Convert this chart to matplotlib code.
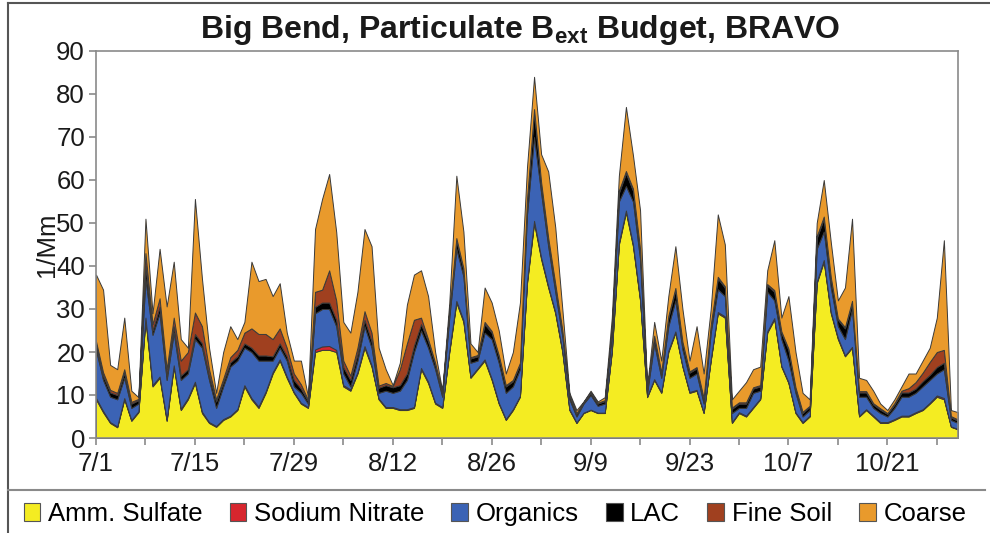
import matplotlib
matplotlib.use("Agg")
import matplotlib.pyplot as plt
from matplotlib.patches import Patch
from matplotlib.lines import Line2D
import numpy as np

plt.rcParams['font.family'] = ['Liberation Sans', 'DejaVu Sans']
plt.rcParams['mathtext.fontset'] = 'custom'
plt.rcParams['mathtext.rm'] = 'Liberation Sans'
plt.rcParams['mathtext.bf'] = 'Liberation Sans:bold'

# ---- data (daily, 7/1 .. 10/31), units 1/Mm ----
sulfate = [9, 6, 3.5, 2.5, 9, 4, 6, 27.6, 12, 14,
           4, 16.6, 6.5, 9, 12.8, 5.8, 3.5, 2.6, 4.2, 5,
           6.5, 12, 9, 7, 10.5, 15, 18, 14, 10.5, 8,
           7, 20, 20.5, 20.5, 20, 12, 11, 15, 21, 16.6,
           9, 7, 7, 6.5, 6.5, 7, 16, 12.8, 8, 7,
           20, 31.5, 27, 14, 16, 18, 13.5, 8, 4.2, 6.5,
           9.6, 36, 50, 41.6, 35, 29, 20, 6.5, 3.5, 5.8,
           6.5, 5.8, 5.8, 20, 45, 52.5, 44.6, 32, 9.5, 13.5,
           10.5, 20, 24.5, 16.6, 10.5, 11, 5.8, 18, 29, 28,
           3.5, 5.8, 5, 7, 9, 24.5, 27.6, 16.6, 12.8, 5.8,
           3.5, 5, 36, 41, 29, 23, 19, 21, 5, 6.5,
           5, 3.5, 3.5, 4.2, 5, 5, 5.8, 6.5, 8, 9.6,
           9, 2.6, 2]
nitrate = [0.3, 0.3, 0.2, 0.2, 0.3, 0.2, 0.2, 0.4, 0.3, 0.3,
           0.3, 0.3, 0.3, 0.3, 0.3, 0.3, 0.2, 0.2, 0.2, 0.2,
           0.2, 0.3, 0.3, 0.3, 0.3, 0.3, 0.3, 0.3, 0.2, 0.2,
           0.2, 0.6, 0.8, 0.9, 0.5, 0.3, 0.3, 0.3, 0.4, 0.3,
           0.2, 0.2, 0.2, 0.2, 0.2, 0.2, 0.3, 0.3, 0.2, 0.2,
           0.3, 0.4, 0.4, 0.2, 0.2, 0.3, 0.3, 0.2, 0.2, 0.2,
           0.2, 0.4, 0.5, 0.4, 0.3, 0.3, 0.3, 0.2, 0.1, 0.1,
           0.1, 0.1, 0.1, 0.3, 0.4, 0.4, 0.4, 0.3, 0.2, 0.2,
           0.2, 0.3, 0.3, 0.2, 0.2, 0.2, 0.2, 0.2, 0.3, 0.3,
           0.2, 0.2, 0.2, 0.2, 0.2, 0.3, 0.3, 0.2, 0.2, 0.2,
           0.2, 0.2, 0.3, 0.4, 0.3, 0.3, 0.2, 0.2, 0.2, 0.2,
           0.2, 0.2, 0.2, 0.2, 0.2, 0.2, 0.2, 0.2, 0.2, 0.3,
           0.3, 0.1, 0.1]
organics = [11.2, 7.2, 5.9, 6.3, 4.7, 2.8, 1.8, 9, 11.7, 14.7,
            9.2, 7.6, 6.7, 5.7, 9.9, 14.9, 9.8, 4.2, 7.6, 11.4,
            11.3, 8.7, 10.7, 10.7, 7.2, 2.7, 2.7, 3.7, 1.3, 2.3,
            0.8, 8.4, 8.7, 8.6, 5.5, 2.7, 0.7, 2.7, 4.6, 4.1,
            1.3, 3.8, 3.3, 4.3, 6.8, 12.8, 8.7, 7.9, 7.8, 2.4,
            7.7, 12.1, 10.2, 3.3, 1.8, 6.2, 9.2, 9.3, 6.1, 5.3,
            6.2, 15.6, 19.5, 15, 9.3, 4.7, 3.3, 2.3, 1.4, 2.1,
            3.4, 1.6, 2.1, 3.7, 9.6, 5.7, 10, 9.3, 0.8, 8.3,
            3.3, 5.7, 7.2, 3.8, 3.3, 3.8, 2, 6.3, 5.3, 4.7,
            2.1, 1, 1.8, 3.3, 1.8, 9.2, 4.1, 6.2, 5, 4.5,
            1.3, 1.3, 7.7, 6.6, 5.7, 2.7, 3.8, 8.8, 4.4, 2.9,
            1.8, 2.1, 1.3, 2.6, 4.4, 4.4, 4.5, 5.3, 5.3, 5.1,
            6.7, 1.5, 1.4]
lac = [1, 1, 1, 1, 1.2, 1, 0.8, 3, 1, 1.5,
       1, 1.5, 1, 1, 1.2, 1, 1, 1.5, 1, 1,
       1, 1, 1, 1.2, 1.2, 1, 1, 1, 1.5, 1,
       0.6, 1.5, 1.5, 1.5, 1.5, 1.5, 1.5, 1.5, 1.5, 1.5,
       1.2, 1.3, 1.3, 1.3, 1.5, 1.5, 1.5, 1.5, 1.2, 0.8,
       1.2, 2, 1.5, 1, 1, 2, 1.5, 1.5, 1.5, 1.2,
       1.2, 3, 6, 2, 1.5, 1.5, 1.2, 0.8, 0.6, 0.3,
       0.5, 0.5, 0.6, 1, 2, 3, 2.5, 2, 0.8, 1.5,
       1, 2, 2.5, 1.5, 1.2, 1.2, 1, 1.5, 2.5, 2,
       1, 1, 1, 1, 1, 1.5, 2, 1.5, 2.5, 1,
       0.8, 0.8, 2.5, 3, 2, 1.5, 2.5, 1.5, 1, 1,
       0.8, 0.8, 0.6, 0.8, 1, 1, 1, 1.2, 1.2, 1.5,
       1.5, 0.6, 0.5]
fine_soil = [1, 0.8, 0.6, 0.5, 0.8, 0.4, 0.3, 3, 1.5, 2,
             1.5, 2, 3.5, 4, 5, 4, 1.5, 0.5, 0.8, 1.2,
             1.5, 2.5, 4.5, 5, 5, 4, 3.5, 2, 1.5, 1,
             0.3, 3.5, 3, 7.5, 4.5, 1.5, 1, 1.5, 2, 2,
             0.5, 0.5, 0.3, 3.7, 7, 6, 1.5, 0.5, 0.3, 0.2,
             0.3, 0.5, 0.4, 0.3, 0.3, 0.5, 0.4, 0.3, 0.3, 0.3,
             0.3, 0.5, 0.5, 0.5, 0.5, 0.4, 0.3, 0.2, 0.2, 0.1,
             0.2, 0.2, 0.2, 0.3, 0.5, 0.5, 0.5, 0.4, 0.2, 0.3,
             0.3, 0.4, 0.4, 0.3, 0.3, 0.3, 0.3, 0.3, 0.4, 0.3,
             0.3, 0.3, 0.3, 0.3, 0.3, 0.3, 0.4, 0.3, 0.3, 0.3,
             0.3, 0.2, 0.4, 0.5, 0.4, 0.3, 0.3, 0.4, 0.3, 0.3,
             0.3, 0.3, 0.2, 0.3, 0.4, 1, 1.5, 2, 3, 3.5,
             3, 0.3, 0.3]
coarse = [15.5, 19.2, 5.8, 5.5, 12, 2.6, 0.4, 8, 2.5, 11.5,
          14.6, 13, 5, 1, 26.4, 11, 5, 1.5, 6.2, 7.2,
          2.5, 2.5, 15.5, 12.3, 12.8, 10, 10.5, 3.5, 3, 5.5,
          0.7, 14.6, 21.1, 22.4, 15.9, 9, 10, 13, 19.1, 20.1,
          8.8, 3.2, 0.2, 1.5, 9, 10.5, 11, 10, 2.5, 0.4,
          2, 14.5, 8.5, 3.2, 0.7, 8, 6.6, 5.7, 2.7, 6.5,
          14, 7.5, 7.5, 6.5, 15.4, 13.1, 4.9, 0.5, 0.7, 0.1,
          0.3, 0.3, 0.7, 2.7, 3.5, 14.9, 7.7, 9, 0.5, 3.2,
          2.7, 4.6, 9.7, 7.6, 2.5, 9.5, 5.7, 3.7, 14.5, 9.7,
          1.9, 2.7, 4.7, 4.2, 4.3, 3.2, 11.6, 3.2, 12.2, 8.2,
          4.4, 1.5, 3.1, 8.5, 8.1, 4.2, 9.2, 19.1, 3.1, 2.6,
          2.9, 1.1, 0.7, 0.9, 1, 3.4, 2, 2.8, 3.3, 8,
          25.5, 1.4, 1.7]

series_names = ["Amm. Sulfate", "Sodium Nitrate", "Organics", "LAC", "Fine Soil", "Coarse"]
tick_labels = ["7/1", "7/15", "7/29", "8/12", "8/26", "9/9", "9/23", "10/7", "10/21"]
colors = ["#F4EC22", "#D7262E", "#3B63B5", "#000000", "#A0401F", "#E99A2C"]

days = np.arange(len(sulfate))

fig = plt.figure(figsize=(9.9, 5.33), dpi=100)
ax = fig.add_axes([96/990, 1 - 438/533, (958 - 96)/990, (438 - 51)/533])

ax.stackplot(days, sulfate, nitrate, organics, lac, fine_soil, coarse,
             colors=colors, edgecolor="#3a3a3a", linewidth=0.7)

ax.set_xlim(0, len(days) - 1)
ax.set_ylim(0, 90)
ax.set_yticks(np.arange(0, 91, 10))
ax.set_xticks(np.arange(0, 14 * len(tick_labels), 14))
ax.set_xticklabels(tick_labels)
ax.set_xticks(np.arange(7, len(days), 14), minor=True)

for s in ax.spines.values():
    s.set_color("#8a8a8a")
    s.set_linewidth(1.2)
ax.tick_params(axis="both", which="both", colors="#8a8a8a", labelcolor="#1a1a1a",
               labelsize=18.5, length=5, width=1.2, direction="out")
ax.tick_params(axis="x", pad=5)
ax.tick_params(axis="y", pad=3)
ax.set_ylabel("1/Mm", fontsize=18.5, color="#1a1a1a", labelpad=-2)

fig.text(0.526, 0.944, r"Big Bend, Particulate B$_{\mathbf{ext}}$ Budget, BRAVO",
         ha="center", va="center", fontsize=23, fontweight="bold", color="#1a1a1a")

handles = [Patch(facecolor=c, edgecolor="#555555", linewidth=0.8) for c in colors]
leg = fig.legend(handles, series_names, loc="center", bbox_to_anchor=(0.5, 1 - 514/533),
                 ncol=6, frameon=False, fontsize=18.5, handlelength=0.65, handleheight=0.65,
                 handletextpad=0.3, columnspacing=1.05, borderaxespad=0)

border = "#555555"
fig.add_artist(Line2D([8/990, 8/990], [0, 1 - 3/533], transform=fig.transFigure,
                      color=border, linewidth=1.5))
fig.add_artist(Line2D([8/990, 1], [1 - 3/533, 1 - 3/533], transform=fig.transFigure,
                      color=border, linewidth=1.5))
fig.add_artist(Line2D([8/990, 985/990], [1 - 490/533, 1 - 490/533],
                      transform=fig.transFigure, color="#8a8a8a", linewidth=1.5))

fig.savefig("out.png", dpi=100)
